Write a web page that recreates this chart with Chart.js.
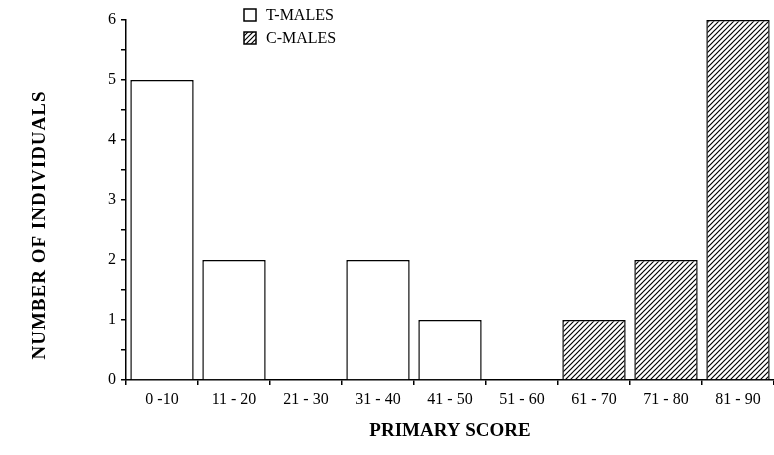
<!DOCTYPE html>
<html>
<head>
<meta charset="utf-8">
<script src="https://cdn.jsdelivr.net/npm/chart.js@4/dist/chart.umd.min.js"></script>
<style>
  html, body { margin: 0; padding: 0; background: #fff; }
  #wrap { width: 774px; height: 455px; }
</style>
</head>
<body>
<div id="wrap"><canvas id="scoreChart" width="774" height="455"></canvas></div>
<script>
// categories and counts
var scoreRanges = ['0 -10', '11 - 20', '21 - 30', '31 - 40', '41 - 50', '51 - 60', '61 - 70', '71 - 80', '81 - 90'];
var tMales = [5, 2, null, 2, 1, null, null, null, null];
var cMales = [null, null, null, null, null, null, 1, 2, 6];
var seriesLabels = ['T-MALES', 'C-MALES'];
var yTitle = 'NUMBER OF INDIVIDUALS';
var xTitle = 'PRIMARY SCORE';

var serif = 'Liberation Serif';

// diagonal hatch for the C-MALES bars
function makeHatch() {
    var s = 5;
    var c = document.createElement('canvas');
    c.width = s; c.height = s;
    var g = c.getContext('2d');
    g.fillStyle = '#fff';
    g.fillRect(0, 0, s, s);
    g.strokeStyle = '#000';
    g.lineWidth = 1.2;
    g.beginPath();
    g.moveTo(0, s); g.lineTo(s, 0);
    g.moveTo(-1, 1); g.lineTo(1, -1);
    g.moveTo(s - 1, s + 1); g.lineTo(s + 1, s - 1);
    g.stroke();
    return g.createPattern(c, 'repeat');
}
var hatch = makeHatch();

// legend stacked in the upper left of the plot, plus the rotated y title
var figureText = {
    id: 'figureText',
    afterDraw: function (chart) {
        var ctx = chart.ctx;
        var x = chart.chartArea.left + 118;
        var y = 9;
        ctx.save();
        ctx.font = '16px "' + serif + '"';
        ctx.textBaseline = 'middle';
        chart.data.datasets.forEach(function (ds, i) {
            var top = y + i * 23;
            ctx.fillStyle = ds.backgroundColor;
            ctx.fillRect(x, top, 12, 12);
            ctx.lineWidth = 1.5;
            ctx.strokeStyle = '#000';
            ctx.strokeRect(x, top, 12, 12);
            ctx.fillStyle = '#000';
            ctx.fillText(ds.label, x + 22, top + 7);
        });
        ctx.translate(40, 225);
        ctx.rotate(-Math.PI / 2);
        ctx.font = 'bold 19px "' + serif + '"';
        ctx.letterSpacing = '1px';
        ctx.textAlign = 'center';
        ctx.fillText(yTitle, 0, 0);
        ctx.restore();
    }
};

var ctx = document.getElementById('scoreChart').getContext('2d');
var myChart = new Chart(ctx, {
    type: 'bar',
    data: {
        labels: scoreRanges,
        datasets: [{
            label: seriesLabels[0],
            data: tMales,
            backgroundColor: '#fff',
            borderColor: '#000',
            borderWidth: 1.5
        }, {
            label: seriesLabels[1],
            data: cMales,
            backgroundColor: hatch,
            borderColor: '#000',
            borderWidth: 1.5
        }]
    },
    options: {
        responsive: false,
        animation: false,
        layout: { padding: { top: 20, right: 0, left: 0, bottom: 0 } },
        datasets: {
            bar: { grouped: false, barPercentage: 0.88, categoryPercentage: 1 }
        },
        plugins: {
            legend: { display: false },
            tooltip: { enabled: false }
        },
        scales: {
            x: {
                afterFit: function (scale) { scale.height = 75; },
                border: { color: '#000', width: 1.5 },
                grid: { offset: true, drawOnChartArea: false, color: '#000', tickLength: 5, lineWidth: 1.5 },
                ticks: { color: '#000', padding: 5, font: { family: serif, size: 16 } },
                title: {
                    display: true,
                    text: xTitle,
                    color: '#000',
                    padding: { top: 4, bottom: 13 },
                    font: { family: serif, size: 19, weight: 'bold' }
                }
            },
            y: {
                min: 0,
                max: 6,
                afterFit: function (scale) { scale.width = 126; },
                border: { color: '#000', width: 1.5 },
                grid: { drawOnChartArea: false, color: '#000', tickLength: 5, lineWidth: 1.5 },
                ticks: {
                    stepSize: 0.5,
                    color: '#000',
                    padding: 5,
                    font: { family: serif, size: 16 },
                    callback: function (v) { return Number.isInteger(v) ? v : ''; }
                }
            }
        }
    },
    plugins: [figureText]
});
</script>
</body>
</html>
